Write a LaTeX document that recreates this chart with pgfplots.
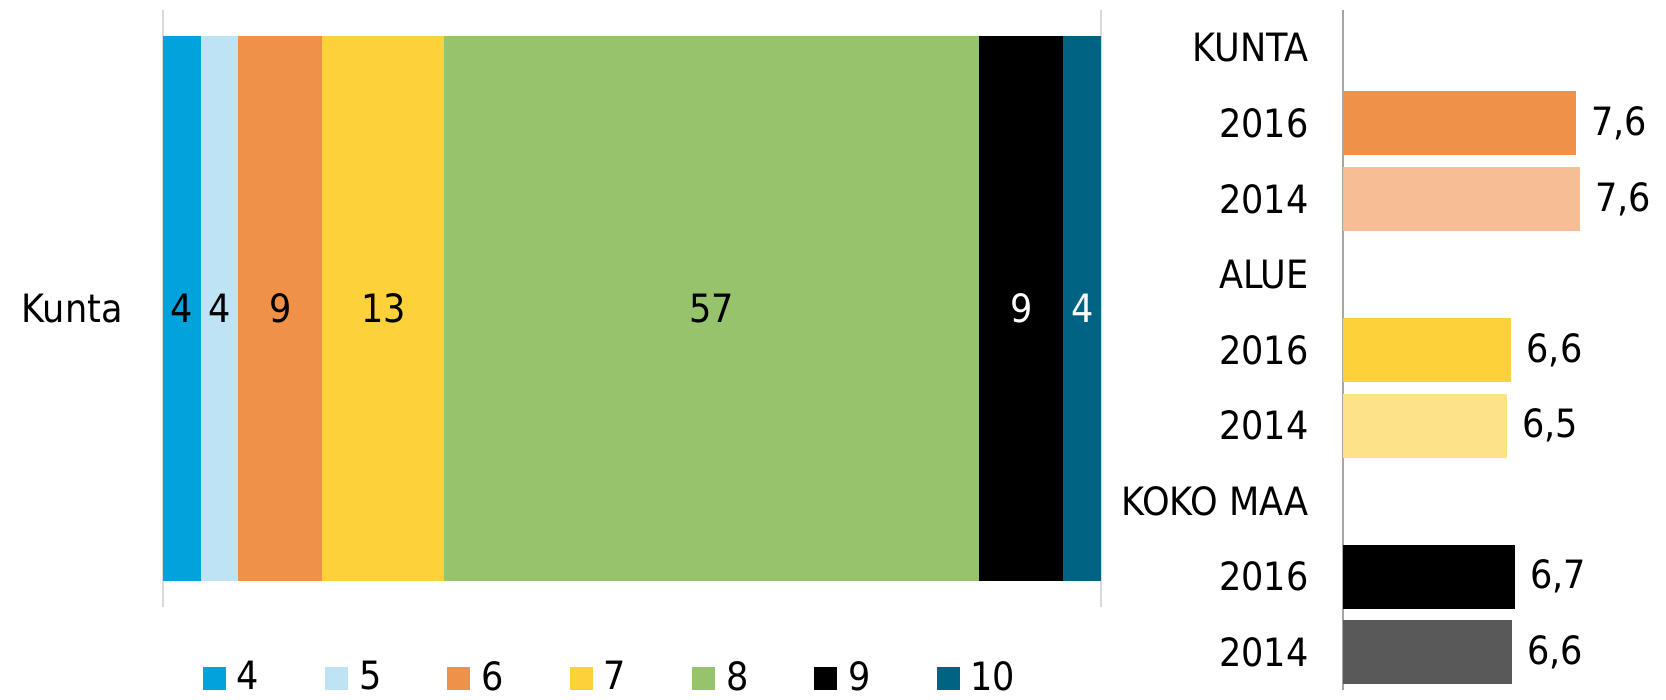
\documentclass[border=0pt]{standalone}
\usepackage{fontspec}
\setmainfont{DejaVu Sans Condensed}
\usepackage{pgfplots}
\pgfplotsset{compat=1.18}
\definecolor{c4}{RGB}{0,163,219}
\definecolor{c5}{RGB}{189,227,245}
\definecolor{c6}{RGB}{240,145,74}
\definecolor{c7}{RGB}{253,209,58}
\definecolor{c8}{RGB}{150,195,108}
\definecolor{c9}{RGB}{0,0,0}
\definecolor{c10}{RGB}{0,99,132}
\definecolor{lorange}{RGB}{247,189,148}
\definecolor{lyellow}{RGB}{253,226,136}
\definecolor{dgray}{RGB}{89,89,89}
\begin{document}
\fontsize{19.5}{23}\selectfont
\begin{tikzpicture}
\path[use as bounding box] (0,0) rectangle (833pt,350pt);
% ---------------- left panel ----------------
\begin{axis}[
  at={(81.5pt,46.5pt)}, anchor=south west,
  scale only axis, width=469pt, height=298.5pt,
  xbar stacked, bar width=272pt,
  xmin=0, xmax=100, ymin=-0.5, ymax=0.5,
  enlargelimits=false,
  axis line style={draw=none},
  major tick length=0pt,
  xtick={0,100}, xticklabels={,},
  xmajorgrids, major grid style={color=black!15, line width=1.2pt},
  ytick={0}, yticklabels={Kunta},
  yticklabel style={inner sep=0pt, xshift=-20pt},
  legend columns=-1,
  legend image code/.code={\fill[#1] (0pt,-5.75pt) rectangle (11.5pt,5.75pt);},
  legend style={draw=none, fill=none, inner sep=0pt, outer sep=0pt,
    at={(0.0424,-0.12)}, anchor=west,
    nodes={inner sep=0pt},
    /tikz/every odd column/.append style={column sep=5.5pt},
    /tikz/every even column/.append style={column sep=33pt}},
]
\addplot[fill=c4, draw=none] coordinates {(4,0)};
\addplot[fill=c5, draw=none] coordinates {(4,0)};
\addplot[fill=c6, draw=none] coordinates {(9,0)};
\addplot[fill=c7, draw=none] coordinates {(13,0)};
\addplot[fill=c8, draw=none] coordinates {(57,0)};
\addplot[fill=c9, draw=none] coordinates {(9,0)};
\addplot[fill=c10, draw=none] coordinates {(4,0)};
\legend{4,5,6,7,8,9,10}
\end{axis}
\begin{axis}[
  at={(81.5pt,46.5pt)}, anchor=south west,
  scale only axis, width=469pt, height=298.5pt,
  xmin=0, xmax=100, ymin=-0.5, ymax=0.5,
  enlargelimits=false, hide axis,
]
\addplot[draw=none, mark=none, forget plot, nodes near coords,
  point meta=explicit symbolic,
  every node near coord/.append style={anchor=center, inner sep=0pt, text=black}]
  table[x=x, y=y, meta=l] {
x y l
2 0 4
6 0 4
12.5 0 9
23.5 0 13
58.5 0 57
};
\addplot[draw=none, mark=none, forget plot, nodes near coords,
  point meta=explicit symbolic,
  every node near coord/.append style={anchor=center, inner sep=0pt, text=white}]
  table[x=x, y=y, meta=l] {
x y l
91.5 0 9
98 0 4
};
\end{axis}
% ---------------- right panel ----------------
\begin{axis}[
  at={(671.5pt,5pt)}, anchor=south west,
  scale only axis, width=161.75pt, height=340pt,
  xbar, bar width=32pt, bar shift=0pt,
  xmin=4, xmax=9, ymin=-0.5, ymax=8.5, y dir=reverse,
  enlargelimits=false, clip=false,
  axis line style={draw=none},
  major tick length=0pt,
  xtick={4}, xticklabels={},
  xmajorgrids, major grid style={color=black!35, line width=1pt},
  ytick={0,1,2,3,4,5,6,7,8},
  yticklabels={KUNTA,2016,2014,ALUE,2016,2014,KOKO MAA,2016,2014},
  yticklabel style={inner sep=0pt, xshift=-17pt},
  nodes near coords, point meta=explicit symbolic,
  every node near coord/.append style={anchor=west, inner sep=0pt, xshift=7.5pt, text=black},
]
\addplot[fill=c6, draw=none] table[x=v, y=r, meta=l] {
r v l
1 7.60 7,6
};
\addplot[fill=lorange, draw=none] table[x=v, y=r, meta=l] {
r v l
2 7.66 7,6
};
\addplot[fill=c7, draw=none] table[x=v, y=r, meta=l] {
r v l
4 6.60 6,6
};
\addplot[fill=lyellow, draw=none] table[x=v, y=r, meta=l] {
r v l
5 6.53 6,5
};
\addplot[fill=black, draw=none] table[x=v, y=r, meta=l] {
r v l
7 6.66 6,7
};
\addplot[fill=dgray, draw=none] table[x=v, y=r, meta=l] {
r v l
8 6.61 6,6
};
\end{axis}
\end{tikzpicture}
\end{document}
